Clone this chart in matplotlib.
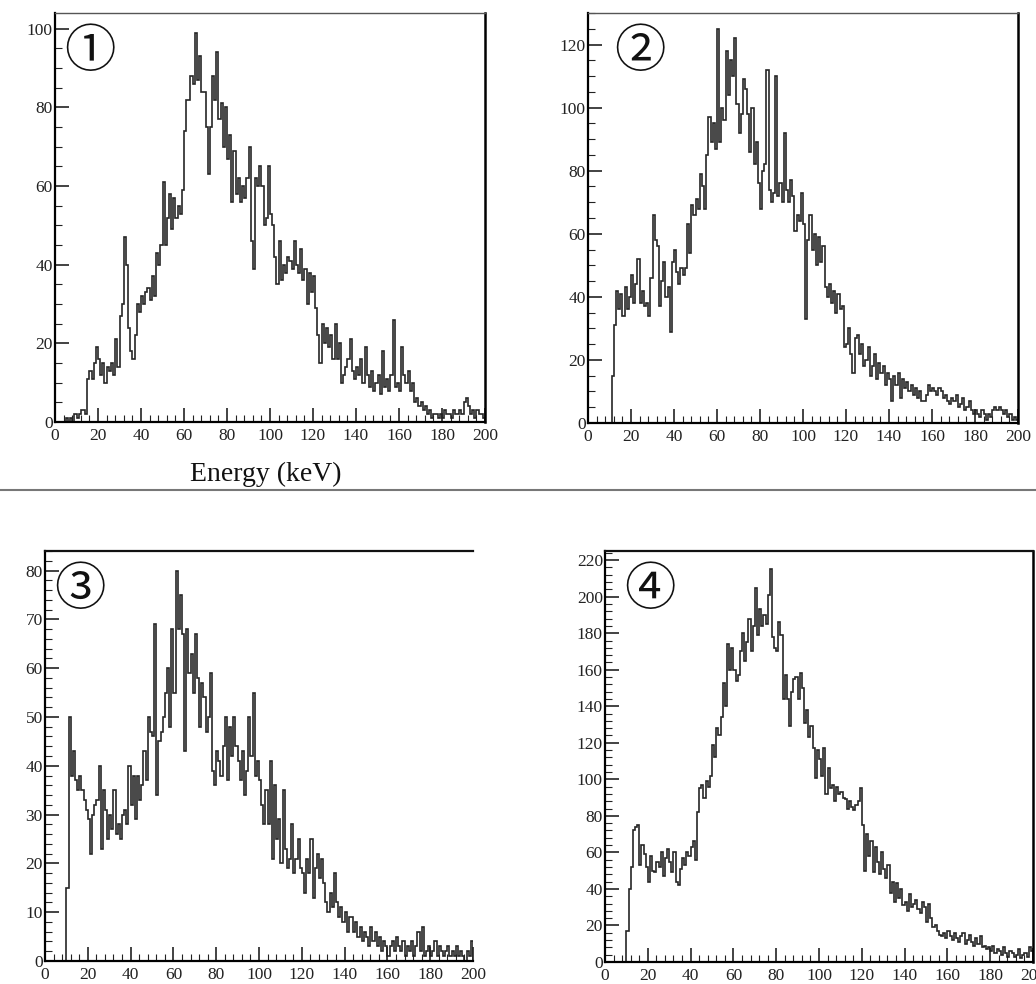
import numpy as np
import matplotlib
matplotlib.use('Agg')
import matplotlib.pyplot as plt
from matplotlib.ticker import MultipleLocator

plt.rc('font', family='Liberation Serif')

# energy bins, 1 keV wide, 0-200 keV
bin_edges = np.arange(0, 201, 1)

counts_1 = [0, 0, 0, 0, 0, 1, 0, 1, 0, 2,
            1, 2, 3, 3, 2, 11, 13, 11, 15, 19,
            16, 12, 15, 10, 14, 13, 15, 12, 21, 14,
            27, 30, 47, 40, 24, 18, 16, 22, 30, 28,
            32, 30, 33, 34, 31, 37, 32, 43, 40, 45,
            61, 45, 52, 58, 49, 57, 52, 55, 53, 59,
            74, 82, 82, 88, 86, 99, 87, 93, 84, 84,
            75, 63, 75, 88, 82, 94, 77, 81, 70, 80,
            67, 73, 56, 69, 58, 62, 56, 60, 57, 62,
            70, 46, 39, 62, 60, 65, 60, 50, 52, 65,
            53, 50, 42, 35, 46, 36, 40, 38, 42, 41,
            39, 46, 40, 38, 44, 36, 39, 30, 38, 33,
            37, 29, 22, 15, 25, 20, 24, 19, 22, 16,
            25, 16, 20, 10, 12, 14, 16, 21, 13, 11,
            14, 12, 16, 10, 19, 12, 9, 13, 8, 10,
            12, 7, 18, 9, 11, 8, 12, 26, 9, 10,
            8, 19, 12, 10, 13, 8, 10, 5, 6, 4,
            5, 3, 4, 2, 3, 1, 2, 2, 1, 2,
            1, 3, 2, 2, 1, 3, 2, 2, 3, 2,
            5, 6, 4, 2, 3, 1, 3, 2, 2, 1]

counts_2 = [0, 0, 0, 0, 0, 0, 0, 0, 0, 0,
            0, 15, 31, 42, 36, 41, 34, 43, 36, 40,
            47, 38, 44, 52, 38, 42, 37, 38, 34, 46,
            66, 58, 56, 37, 45, 51, 40, 43, 29, 51,
            55, 48, 44, 49, 47, 49, 63, 54, 69, 66,
            71, 68, 79, 75, 68, 85, 97, 89, 95, 87,
            125, 89, 100, 96, 118, 104, 115, 110, 122, 101,
            92, 98, 109, 106, 98, 86, 100, 82, 89, 76,
            68, 80, 82, 112, 74, 70, 73, 110, 72, 76,
            70, 92, 74, 70, 77, 72, 61, 66, 64, 73,
            63, 33, 58, 66, 55, 60, 50, 59, 51, 56,
            43, 40, 44, 38, 42, 35, 41, 36, 37, 24,
            25, 30, 22, 16, 27, 28, 22, 25, 18, 20,
            24, 15, 18, 22, 14, 19, 16, 18, 12, 16,
            14, 7, 15, 12, 16, 8, 14, 11, 13, 10,
            12, 9, 11, 8, 10, 7, 7, 9, 12, 10,
            11, 10, 9, 11, 10, 8, 9, 7, 6, 8,
            7, 9, 5, 6, 8, 4, 5, 7, 4, 3,
            4, 3, 2, 4, 3, 1, 3, 2, 4, 5,
            4, 5, 4, 3, 4, 2, 3, 1, 2, 1]

counts_3 = [0, 0, 0, 0, 0, 0, 0, 0, 0, 0,
            15, 50, 38, 43, 37, 35, 38, 35, 33, 31,
            29, 22, 30, 32, 33, 40, 23, 35, 31, 25,
            30, 27, 35, 26, 28, 25, 30, 31, 28, 40,
            32, 38, 29, 38, 33, 36, 43, 37, 50, 47,
            46, 69, 34, 45, 47, 50, 55, 60, 48, 68,
            55, 80, 68, 75, 67, 43, 68, 59, 63, 55,
            67, 58, 48, 57, 54, 47, 50, 59, 39, 36,
            43, 41, 38, 44, 50, 37, 48, 42, 50, 44,
            41, 37, 43, 34, 39, 50, 42, 55, 38, 41,
            37, 32, 28, 35, 28, 41, 21, 36, 25, 29,
            20, 35, 23, 19, 21, 28, 18, 21, 25, 19,
            18, 14, 21, 18, 25, 13, 19, 22, 17, 21,
            16, 12, 10, 14, 11, 18, 12, 9, 11, 8,
            10, 6, 9, 9, 6, 8, 5, 7, 4, 6,
            5, 3, 7, 4, 6, 3, 5, 2, 4, 3,
            1, 3, 4, 2, 5, 3, 2, 4, 1, 3,
            2, 4, 1, 3, 6, 2, 7, 1, 2, 3,
            1, 2, 4, 1, 3, 2, 1, 2, 3, 1,
            2, 1, 3, 1, 2, 1, 0, 2, 1, 4]

counts_4 = [0, 0, 0, 0, 0, 0, 0, 0, 0, 0,
            17, 40, 52, 72, 74, 75, 53, 64, 59, 52,
            44, 58, 50, 49, 55, 52, 60, 47, 57, 62,
            55, 49, 60, 44, 42, 51, 57, 53, 60, 58,
            63, 66, 56, 82, 95, 97, 90, 99, 96, 102,
            119, 112, 128, 124, 134, 153, 140, 174, 160, 172,
            160, 154, 157, 170, 180, 165, 175, 188, 170, 184,
            205, 179, 193, 184, 190, 185, 201, 215, 178, 172,
            170, 186, 179, 144, 157, 144, 129, 148, 155, 156,
            144, 158, 150, 131, 138, 123, 129, 117, 101, 116,
            111, 102, 117, 92, 106, 95, 97, 88, 96, 92,
            93, 90, 89, 84, 88, 85, 83, 86, 88, 95,
            75, 50, 70, 58, 66, 49, 63, 55, 48, 60,
            51, 46, 53, 38, 44, 33, 43, 35, 40, 31,
            33, 28, 37, 30, 32, 34, 29, 27, 33, 30,
            22, 32, 24, 19, 20, 17, 15, 14, 16, 13,
            17, 14, 12, 16, 13, 11, 14, 16, 10, 12,
            15, 11, 9, 13, 10, 14, 8, 9, 7, 8,
            6, 9, 5, 7, 6, 4, 8, 5, 3, 6,
            5, 3, 4, 7, 2, 4, 5, 3, 8, 6]

panel_labels = ['①', '②', '③', '④']
y_max = [104, 130, 84, 225]
y_major = [20, 20, 10, 20]
y_minor = [5, 5, 2, 4]

fig = plt.figure(figsize=(10.36, 9.84), dpi=100)

W, H = 1036.0, 984.0
# axes boxes in pixels: left, right, top, bottom
boxes = [(55, 485, 13, 422), (588, 1018, 13, 423),
         (45, 473, 551, 961), (605, 1033, 551, 962)]
label_pos = [(90, 52), (640, 52), (80, 590), (650, 590)]

all_counts = [counts_1, counts_2, counts_3, counts_4]

for k in range(4):
    l, r, t, b = boxes[k]
    ax = fig.add_axes([l / W, 1 - b / H, (r - l) / W, (b - t) / H])
    ax.stairs(all_counts[k], bin_edges, color='#262626', linewidth=1.2)
    ax.set_xlim(0, 200)
    ax.set_ylim(0, y_max[k])
    ax.xaxis.set_major_locator(MultipleLocator(20))
    ax.xaxis.set_minor_locator(MultipleLocator(4))
    ax.yaxis.set_major_locator(MultipleLocator(y_major[k]))
    ax.yaxis.set_minor_locator(MultipleLocator(y_minor[k]))
    ax.tick_params(which='both', direction='in', labelsize=12.5, colors='#222222')
    ax.tick_params(which='major', length=10, width=1.2)
    ax.tick_params(which='minor', length=5, width=0.8)
    ax.tick_params(axis='y', pad=1.5)
    ax.tick_params(axis='x', pad=4)
    for side in ['left', 'bottom']:
        ax.spines[side].set_linewidth(1.6)
    ax.spines['right'].set_linewidth(1.8)
    ax.spines['top'].set_linewidth(1.0)
    ax.spines['top'].set_color('#555555')
    if k == 2:
        ax.spines['right'].set_visible(False)
        ax.spines['top'].set_color('#111111')
        ax.spines['top'].set_linewidth(1.6)
    if k == 3:
        ax.spines['top'].set_color('#111111')
        ax.spines['top'].set_linewidth(1.6)
    px, py = label_pos[k]
    fig.text(px / W, 1 - py / H, panel_labels[k], fontsize=37,
             family=['Noto Sans CJK JP', 'DejaVu Sans'],
             ha='center', va='center', color='#111111')

fig.text(266 / W, 1 - 474 / H, 'Energy (keV)', fontsize=20,
         ha='center', va='center', color='#111111')

# separator line between the two rows
fig.add_artist(plt.Line2D([0, 1], [1 - 490 / H, 1 - 490 / H],
                          color='#777777', linewidth=1.5,
                          transform=fig.transFigure))

fig.savefig('out.png', dpi=100, facecolor='white')
